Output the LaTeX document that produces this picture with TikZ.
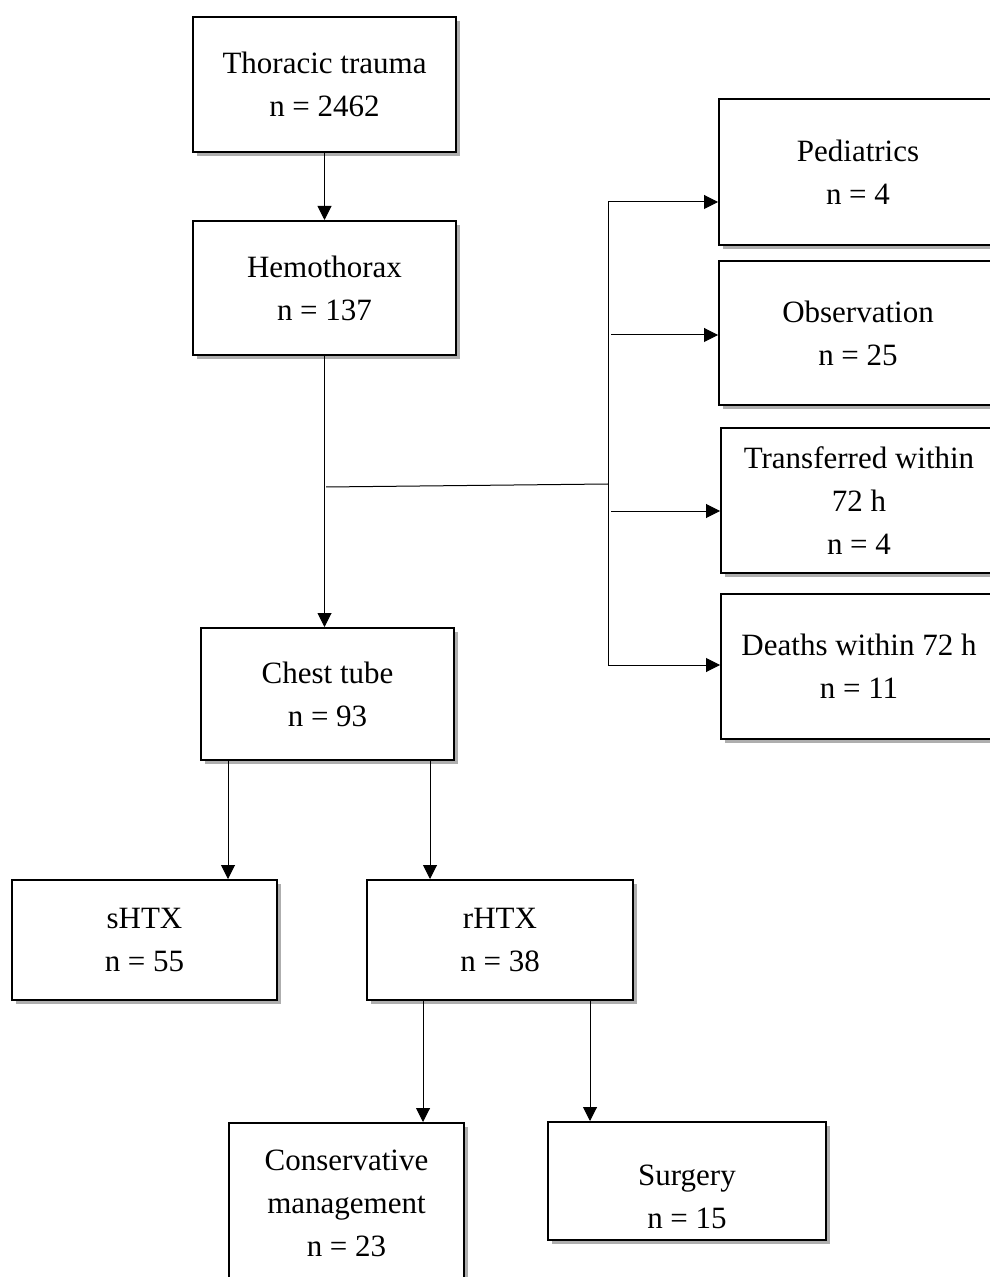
\documentclass[tikz,border=0pt]{standalone}
\usepackage{fontspec}
\setmainfont{Liberation Serif}
\usetikzlibrary{arrows.meta,shadows,positioning}

\tikzset{
  flowbox/.style={draw, line width=1pt, fill=white, align=center, inner sep=0pt,
    font=\fontsize{15.5}{21.5}\selectfont,
    drop shadow={shadow xshift=2pt, shadow yshift=-2pt, opacity=0.45, fill=black!70}},
  flowarrow/.style={line width=0.5pt, -{Triangle[length=7pt,width=7pt]}},
  flowline/.style={line width=0.5pt},
}

\begin{document}
\begin{tikzpicture}[x=0.5pt, y=-0.5pt]
\useasboundingbox (0,0) rectangle (989,1277);

% main column
\node[flowbox, minimum width=131.5pt, minimum height=67.5pt] (trauma) at (324.5,84.5) {Thoracic trauma\\n = 2462};
\node[flowbox, minimum width=131.5pt, minimum height=67pt] (hemo) at (324.5,288) {Hemothorax\\n = 137};
\node[flowbox, minimum width=126.5pt, minimum height=66pt] (chest) at (327.5,694) {Chest tube\\n = 93};

% excluded
\node[flowbox, minimum width=139pt, minimum height=73pt] (ped) at (858,172) {Pediatrics\\n = 4};
\node[flowbox, minimum width=139pt, minimum height=72pt] (obs) at (858,333) {Observation\\n = 25};
\node[flowbox, minimum width=138pt, minimum height=72.5pt] (transf) at (859,500.5) {Transferred within\\72 h\\n = 4};
\node[flowbox, minimum width=138pt, minimum height=72.5pt] (death) at (859,666.5) {Deaths within 72 h\\n = 11};

% outcomes
\node[flowbox, minimum width=132.5pt, minimum height=60pt] (shtx) at (144.5,940) {sHTX\\n = 55};
\node[flowbox, minimum width=133pt, minimum height=60pt] (rhtx) at (500,940) {rHTX\\n = 38};
\node[flowbox, minimum width=117.5pt, minimum height=80pt] (cons) at (346.5,1203) {Conservative\\management\\n = 23};
\node[flowbox, minimum width=139pt, minimum height=59pt] (surg) at (687,1181) {\rule{0pt}{26pt}Surgery\\n = 15};

\draw[flowarrow] (trauma.south) -- (hemo.north);
\draw[flowarrow] (hemo.south) -- (hemo.south |- chest.north);

% exclusion bus
\coordinate (j1) at (326,487);
\coordinate (j2) at (608,484);
\coordinate (b1) at (608,202);
\coordinate (b2) at (611,335);
\coordinate (b3) at (611,511);
\coordinate (b4) at (608,665);
\draw[flowline] (j1) -- (j2);
\draw[flowline] (b1) -- (b4);
\draw[flowarrow] (b1) -- (b1 -| ped.west);
\draw[flowarrow] (b2) -- (b2 -| obs.west);
\draw[flowarrow] (b3) -- (b3 -| transf.west);
\draw[flowarrow] (b4) -- (b4 -| death.west);

% split
\coordinate (c1) at (228,760);
\coordinate (c2) at (430,760);
\draw[flowarrow] (c1) -- (c1 |- shtx.north);
\draw[flowarrow] (c2) -- (c2 |- rhtx.north);
\coordinate (r1) at (423,1000);
\coordinate (r2) at (590,1000);
\draw[flowarrow] (r1) -- (r1 |- cons.north);
\draw[flowarrow] (r2) -- (r2 |- surg.north);

\end{tikzpicture}
\end{document}
